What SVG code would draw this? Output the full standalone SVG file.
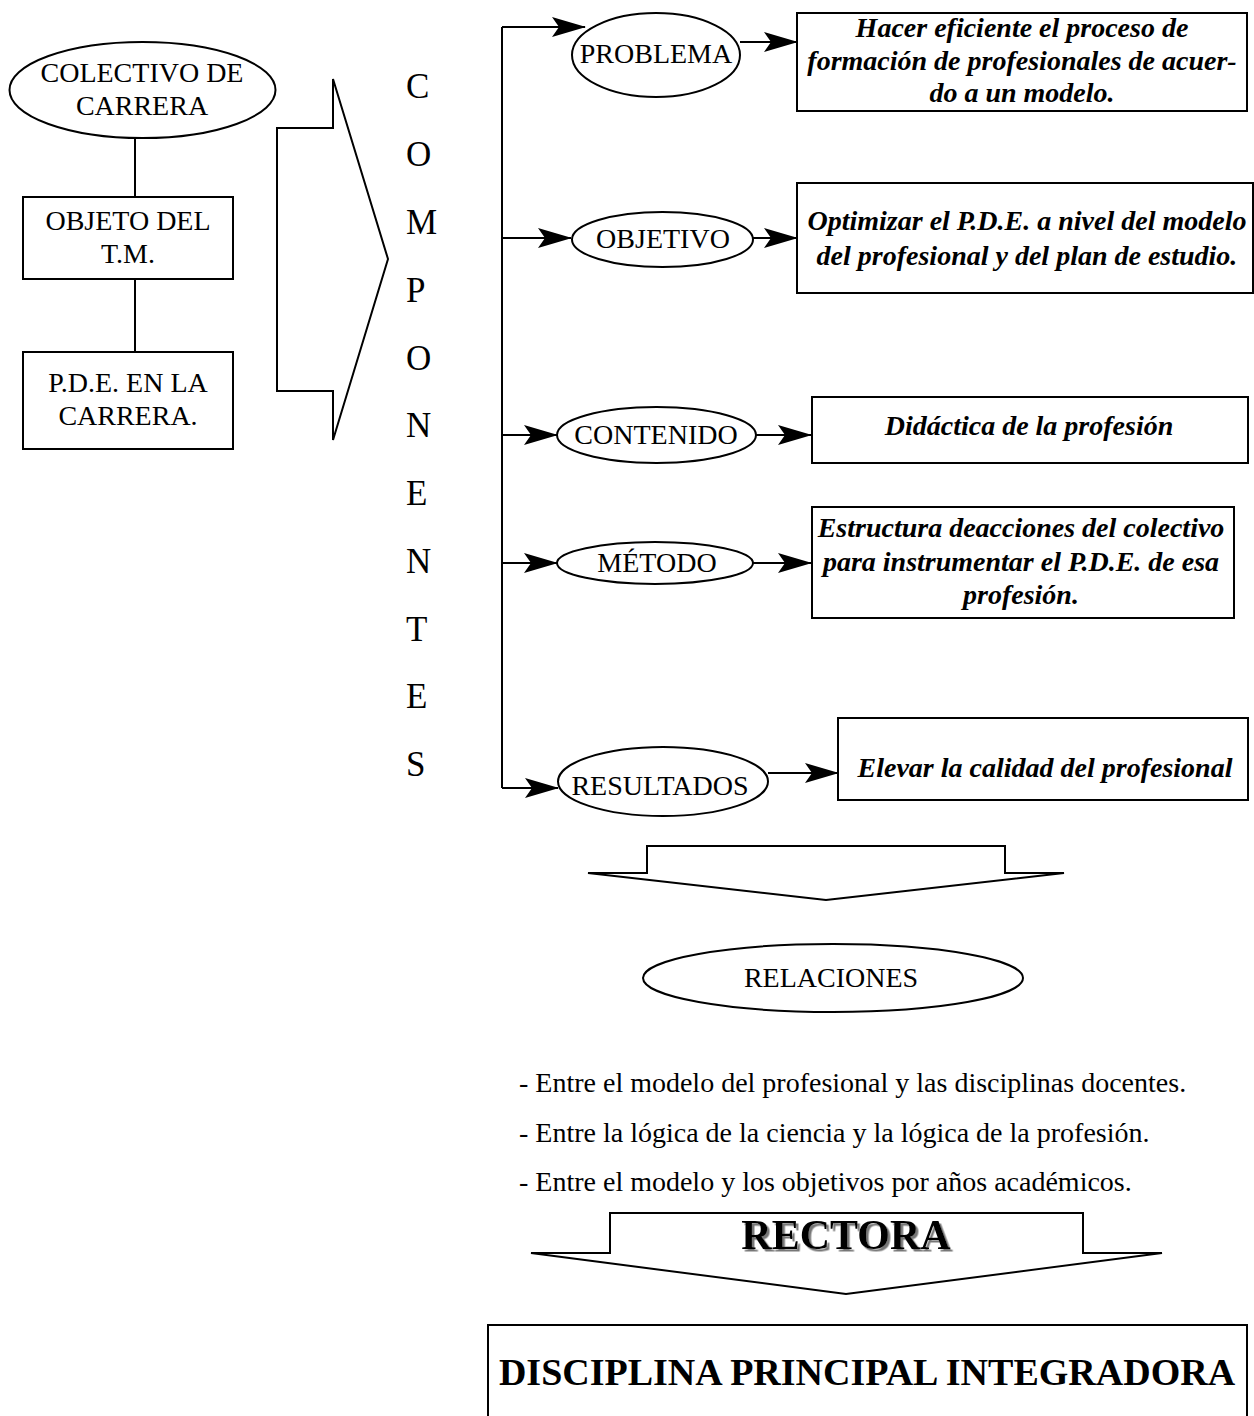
<svg xmlns="http://www.w3.org/2000/svg" width="1254" height="1416" viewBox="0 0 1254 1416">
<style>
  .sh { fill: #fff; stroke: #000; stroke-width: 2; }
  .ln { fill: none; stroke: #000; stroke-width: 2; }
  .t { font-family: "Liberation Serif", "Times New Roman", serif; font-size: 28px; fill: #000; text-anchor: middle; }
  .bi { font-family: "Liberation Serif", "Times New Roman", serif; font-size: 28px; font-weight: bold; font-style: italic; fill: #000; text-anchor: middle; }
  .v { font-family: "Liberation Serif", "Times New Roman", serif; font-size: 35px; fill: #000; }
  .l { font-family: "Liberation Serif", "Times New Roman", serif; font-size: 28px; fill: #000; }
</style>
<defs>
  <marker id="ah" viewBox="0 0 34 20" refX="33" refY="10" markerWidth="34" markerHeight="20" markerUnits="userSpaceOnUse" orient="auto">
    <path d="M0,0 L34,10 L0,20 L7,10 Z" fill="#000"/>
  </marker>
  <filter id="shadow" x="-10%" y="-20%" width="130%" height="150%">
    <feDropShadow dx="2.5" dy="2.5" stdDeviation="0.6" flood-color="#777" flood-opacity="1"/>
  </filter>
</defs>
<rect width="1254" height="1416" fill="#fff"/>

<g id="connectors">
  <path class="ln" d="M135,138 L135,197"/>
  <path class="ln" d="M135,279 L135,352"/>
  <path class="ln" d="M502,27 L502,788"/>
  <path class="ln" d="M502,27 L585,27" marker-end="url(#ah)"/>
  <path class="ln" d="M740,42 L797,42" marker-end="url(#ah)"/>
  <path class="ln" d="M502,238 L571,238" marker-end="url(#ah)"/>
  <path class="ln" d="M753,238 L797,238" marker-end="url(#ah)"/>
  <path class="ln" d="M502,435 L557,435" marker-end="url(#ah)"/>
  <path class="ln" d="M756,435 L811,435" marker-end="url(#ah)"/>
  <path class="ln" d="M502,563 L557,563" marker-end="url(#ah)"/>
  <path class="ln" d="M753,563 L811,563" marker-end="url(#ah)"/>
  <path class="ln" d="M502,788 L558,788" marker-end="url(#ah)"/>
  <path class="ln" d="M768,773 L838,773" marker-end="url(#ah)"/>
</g>

<g id="colectivo">
  <ellipse class="sh" cx="142.5" cy="90" rx="133" ry="48"/>
  <text class="t" x="142" y="82">COLECTIVO DE</text>
  <text class="t" x="142" y="115">CARRERA</text>
</g>
<g id="objeto">
  <rect class="sh" x="23" y="197" width="210" height="82"/>
  <text class="t" x="128" y="230">OBJETO DEL</text>
  <text class="t" x="128" y="263">T.M.</text>
</g>
<g id="pde">
  <rect class="sh" x="23" y="352" width="210" height="97"/>
  <text class="t" x="128" y="392">P.D.E. EN LA</text>
  <text class="t" x="128" y="425">CARRERA.</text>
</g>

<g id="arrow-right">
  <polygon class="sh" points="277,128 333,128 333,79 388,259 333,440 333,391 277,391"/>
</g>

<g id="componentes">
  <text class="v" x="406" y="98">C</text>
  <text class="v" x="406" y="166">O</text>
  <text class="v" x="406" y="234">M</text>
  <text class="v" x="406" y="302">P</text>
  <text class="v" x="406" y="370">O</text>
  <text class="v" x="406" y="437">N</text>
  <text class="v" x="406" y="505">E</text>
  <text class="v" x="406" y="573">N</text>
  <text class="v" x="406" y="641">T</text>
  <text class="v" x="406" y="708">E</text>
  <text class="v" x="406" y="776">S</text>
</g>

<g id="problema">
  <ellipse class="sh" cx="656" cy="55" rx="84" ry="42"/>
  <text class="t" x="656" y="63">PROBLEMA</text>
</g>
<g id="problema-desc">
  <rect class="sh" x="797" y="13" width="450" height="98"/>
  <text class="bi" x="1022" y="37">Hacer eficiente el proceso de</text>
  <text class="bi" x="1022" y="70">formación de profesionales de acuer-</text>
  <text class="bi" x="1022" y="102">do a un modelo.</text>
</g>

<g id="objetivo">
  <ellipse class="sh" cx="662.5" cy="239.5" rx="90.5" ry="27.5"/>
  <text class="t" x="663" y="248">OBJETIVO</text>
</g>
<g id="objetivo-desc">
  <rect class="sh" x="797" y="183" width="456" height="110"/>
  <text class="bi" x="1027" y="230">Optimizar el P.D.E. a nivel del modelo</text>
  <text class="bi" x="1027" y="265">del profesional y del plan de estudio.</text>
</g>

<g id="contenido">
  <ellipse class="sh" cx="656.5" cy="435" rx="99.5" ry="28"/>
  <text class="t" x="656" y="444">CONTENIDO</text>
</g>
<g id="contenido-desc">
  <rect class="sh" x="812" y="397" width="436" height="66"/>
  <text class="bi" x="1029" y="435">Didáctica de la profesión</text>
</g>

<g id="metodo">
  <ellipse class="sh" cx="655" cy="563" rx="98" ry="21"/>
  <text class="t" x="657" y="572">MÉTODO</text>
</g>
<g id="metodo-desc">
  <rect class="sh" x="812" y="507" width="422" height="111"/>
  <text class="bi" x="1021" y="537">Estructura deacciones del colectivo</text>
  <text class="bi" x="1021" y="571">para instrumentar el P.D.E. de esa</text>
  <text class="bi" x="1021" y="604">profesión.</text>
</g>

<g id="resultados">
  <ellipse class="sh" cx="663" cy="781.5" rx="105" ry="34.5"/>
  <text class="t" x="660" y="795">RESULTADOS</text>
</g>
<g id="resultados-desc">
  <rect class="sh" x="838" y="718" width="410" height="82"/>
  <text class="bi" x="1045" y="777">Elevar la calidad del profesional</text>
</g>

<g id="arrow-down-1">
  <polygon class="sh" points="647,846 1005,846 1005,873 1064,873 826,900 588,873 647,873"/>
</g>

<g id="relaciones">
  <ellipse class="sh" cx="833" cy="978" rx="190" ry="34"/>
  <text class="t" x="831" y="987">RELACIONES</text>
</g>

<g id="relaciones-list">
  <text class="l" x="519" y="1092">- Entre el modelo del profesional y las disciplinas docentes.</text>
  <text class="l" x="519" y="1142">- Entre la lógica de la ciencia y la lógica de la profesión.</text>
  <text class="l" x="519" y="1191">- Entre el modelo y los objetivos por años académicos.</text>
</g>

<g id="rectora">
  <polygon class="sh" points="610,1213 1083,1213 1083,1253 1162,1253 846,1294 531,1253 610,1253"/>
  <text x="846" y="1249" filter="url(#shadow)" style="font-family:'Liberation Serif','Times New Roman',serif;font-size:42px;font-weight:bold;text-anchor:middle;fill:#000">RECTORA</text>
</g>

<g id="disciplina">
  <rect class="sh" x="488" y="1325" width="759" height="120"/>
  <text x="867" y="1385" style="font-family:'Liberation Serif','Times New Roman',serif;font-size:38px;font-weight:bold;text-anchor:middle;fill:#000">DISCIPLINA PRINCIPAL INTEGRADORA</text>
</g>
</svg>
